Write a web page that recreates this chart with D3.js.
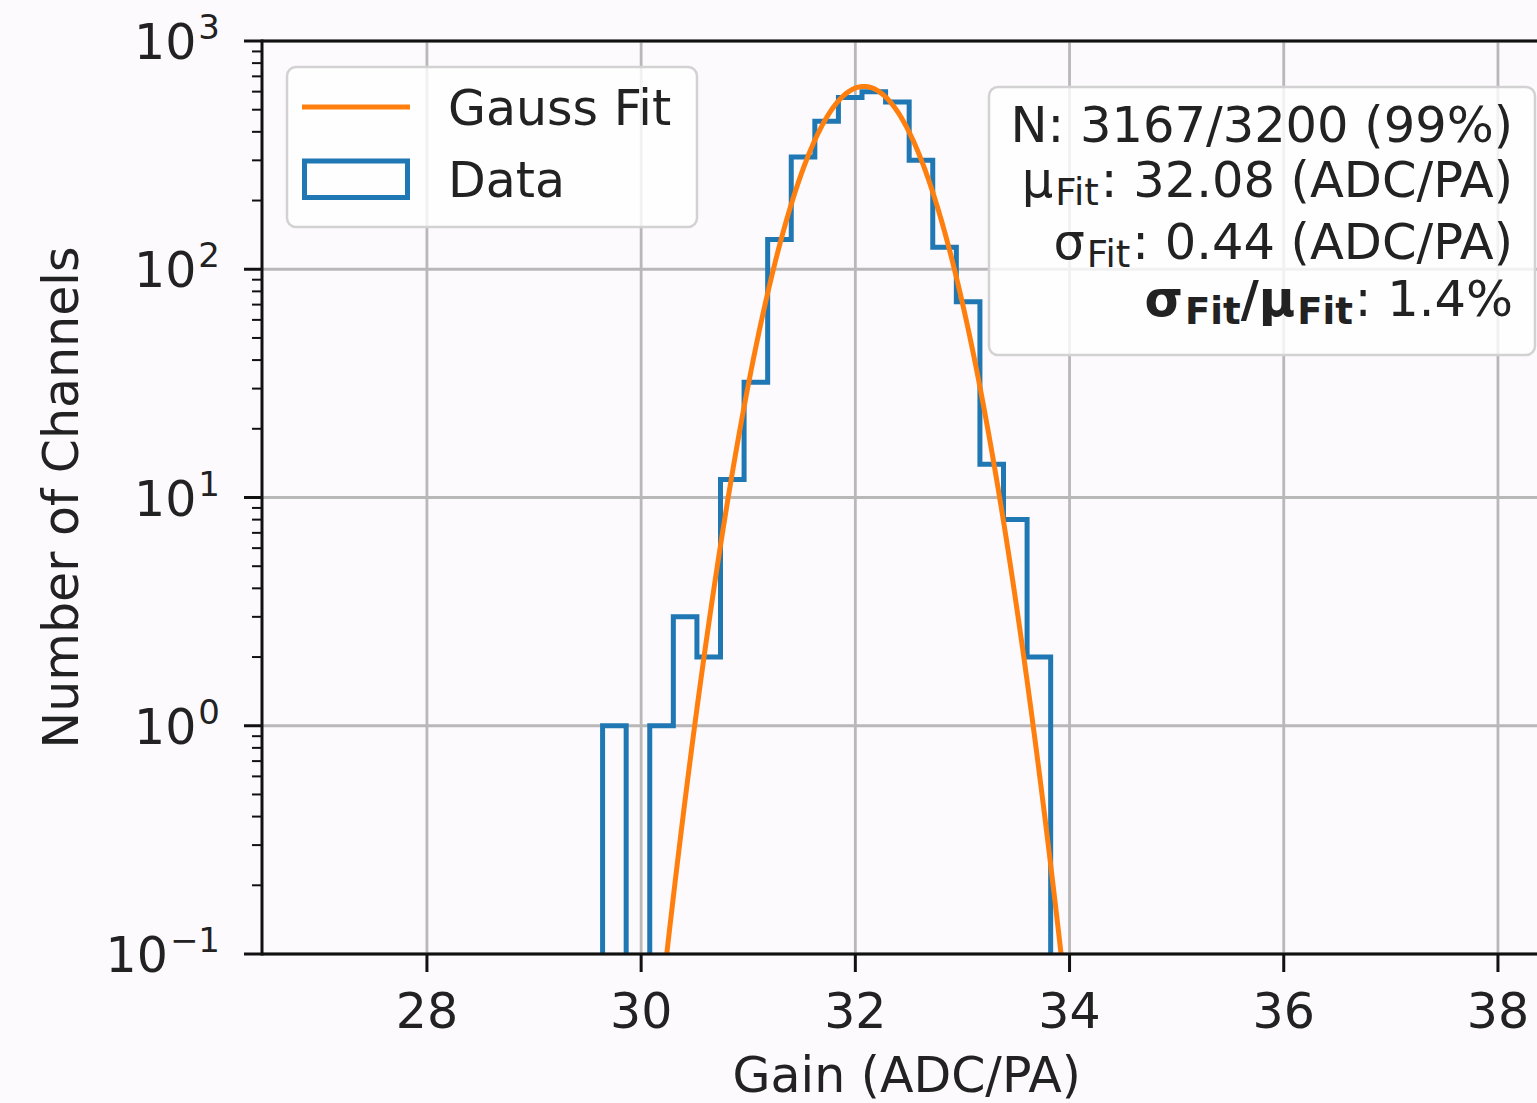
<!DOCTYPE html>
<html>
<head>
<meta charset="utf-8">
<script src="https://cdn.jsdelivr.net/npm/d3@7"></script>
<style>
  html, body { margin: 0; padding: 0; background: #fdfafd; }
  svg { display: block; font-family: "DejaVu Sans", sans-serif; }
</style>
</head>
<body>
<svg id="chart" width="1537" height="1103"></svg>
<script>
// Gain histogram (channels per bin) with Gaussian fit
const binStart = 29.64;          // lower edge of the first bin (ADC/PA)
const binWidth = 0.2202;         // bin width (ADC/PA)
const binCounts = [1, 0, 1, 3, 2, 12, 32, 135, 310, 445, 565, 600, 540, 300, 125, 72, 14, 8, 2];

const fitMu = 32.08;
const fitSigma = 0.44;
const nFitted = 3167;
const nTotal = 3200;

const xTicks = [28, 30, 32, 34, 36, 38];
const yTickExponents = [-1, 0, 1, 2, 3];
const xDomain = [26.46, 38.5];
const yDomain = [0.1, 1000];

const legendLabels = ["Gauss Fit", "Data"];
const xAxisTitle = "Gain (ADC/PA)";
const yAxisTitle = "Number of Channels";

const colBlue = "#1f77b4";
const colOrange = "#ff7f0e";
const colText = "#222";
const colGrid = "#b8b8b8";

const svg = d3.select("#chart");
const plot = { left: 262, top: 41, right: 1551.5, bottom: 954 };

const x = d3.scaleLinear().domain(xDomain).range([plot.left, plot.right]);
const y = d3.scaleLog().domain(yDomain).range([plot.bottom, plot.top]);

svg.append("rect").attr("width", 1537).attr("height", 1103).attr("fill", "#fdfafd");

svg.append("defs").append("clipPath").attr("id", "plotClip")
  .append("rect")
  .attr("x", plot.left).attr("y", plot.top)
  .attr("width", plot.right - plot.left).attr("height", plot.bottom - plot.top);

// grid
const grid = svg.append("g");
grid.selectAll("line.gx").data(xTicks).join("line")
  .attr("x1", d => x(d)).attr("x2", d => x(d))
  .attr("y1", plot.top).attr("y2", plot.bottom)
  .attr("stroke", colGrid).attr("stroke-width", 2.8);
grid.selectAll("line.gy").data(yTickExponents).join("line")
  .attr("x1", plot.left).attr("x2", plot.right)
  .attr("y1", d => y(Math.pow(10, d))).attr("y2", d => y(Math.pow(10, d)))
  .attr("stroke", colGrid).attr("stroke-width", 2.8);

// histogram outline (step)
const edges = d3.range(binCounts.length + 1).map(i => binStart + i * binWidth);
const floorVal = 1e-3;
const stepPts = [[edges[0], floorVal]];
binCounts.forEach((c, i) => {
  const v = c > 0 ? c : floorVal;
  stepPts.push([edges[i], v]);
  stepPts.push([edges[i + 1], v]);
});
stepPts.push([edges[edges.length - 1], floorVal]);

const body = svg.append("g").attr("clip-path", "url(#plotClip)");
body.append("path")
  .attr("d", d3.line().x(d => x(d[0])).y(d => y(d[1]))(stepPts))
  .attr("fill", "none").attr("stroke", colBlue).attr("stroke-width", 5)
  .attr("stroke-linejoin", "miter");

// Gaussian fit curve
const amp = nFitted * binWidth / (fitSigma * Math.sqrt(2 * Math.PI));
const curvePts = d3.range(0, 2001).map(i => {
  const xv = xDomain[0] + (xDomain[1] - xDomain[0]) * i / 2000;
  const yv = amp * Math.exp(-Math.pow(xv - fitMu, 2) / (2 * fitSigma * fitSigma));
  return [xv, Math.max(yv, 1e-4)];
});
body.append("path")
  .attr("d", d3.line().x(d => x(d[0])).y(d => y(d[1]))(curvePts))
  .attr("fill", "none").attr("stroke", colOrange).attr("stroke-width", 5);

// spines
const spines = svg.append("g").attr("stroke", "#111").attr("stroke-width", 3);
spines.append("line").attr("x1", plot.left).attr("x2", plot.left).attr("y1", plot.top - 1.5).attr("y2", plot.bottom + 1.5);
spines.append("line").attr("x1", plot.left).attr("x2", plot.right).attr("y1", plot.bottom).attr("y2", plot.bottom);
spines.append("line").attr("x1", plot.left).attr("x2", plot.right).attr("y1", plot.top).attr("y2", plot.top);

// x axis ticks and labels
const xAxisG = svg.append("g");
xAxisG.selectAll("line").data(xTicks).join("line")
  .attr("x1", d => x(d)).attr("x2", d => x(d))
  .attr("y1", plot.bottom).attr("y2", plot.bottom + 18)
  .attr("stroke", "#111").attr("stroke-width", 3);
xAxisG.selectAll("text").data(xTicks).join("text")
  .attr("x", d => x(d)).attr("y", 1028)
  .attr("text-anchor", "middle").attr("font-size", 49).attr("fill", colText)
  .text(d => d);

// y axis ticks (major + minor) and labels
const yAxisG = svg.append("g");
yAxisG.selectAll("line.maj").data(yTickExponents).join("line")
  .attr("x1", plot.left - 18).attr("x2", plot.left)
  .attr("y1", d => y(Math.pow(10, d))).attr("y2", d => y(Math.pow(10, d)))
  .attr("stroke", "#111").attr("stroke-width", 3);
const minorVals = [];
yTickExponents.slice(0, -1).forEach(e => {
  for (let m = 2; m <= 9; m++) minorVals.push(m * Math.pow(10, e));
});
yAxisG.selectAll("line.min").data(minorVals).join("line")
  .attr("x1", plot.left - 10).attr("x2", plot.left)
  .attr("y1", d => y(d)).attr("y2", d => y(d))
  .attr("stroke", "#111").attr("stroke-width", 2);
const yLab = yAxisG.selectAll("text").data(yTickExponents).join("text")
  .attr("x", 220).attr("y", d => y(Math.pow(10, d)) + 18)
  .attr("text-anchor", "end").attr("font-size", 49).attr("fill", colText);
yLab.append("tspan").text("10");
yLab.append("tspan").attr("dy", -20).attr("dx", 2).attr("font-size", 34)
  .text(d => d < 0 ? "\u2212" + Math.abs(d) : String(d));

// axis titles
svg.append("text")
  .attr("x", (plot.left + plot.right) / 2).attr("y", 1092)
  .attr("text-anchor", "middle").attr("font-size", 49).attr("fill", colText)
  .text(xAxisTitle);
svg.append("text")
  .attr("transform", `translate(78,${(plot.top + plot.bottom) / 2}) rotate(-90)`)
  .attr("text-anchor", "middle").attr("font-size", 49).attr("fill", colText)
  .text(yAxisTitle);

// legend
const leg = svg.append("g");
leg.append("rect")
  .attr("x", 287).attr("y", 67).attr("width", 410).attr("height", 160).attr("rx", 9)
  .attr("fill", "#ffffff").attr("fill-opacity", 0.8)
  .attr("stroke", "#d2d2d2").attr("stroke-width", 2.5);
leg.append("line").attr("x1", 302).attr("x2", 410).attr("y1", 107).attr("y2", 107)
  .attr("stroke", colOrange).attr("stroke-width", 5);
leg.append("rect").attr("x", 304.5).attr("y", 161).attr("width", 103).attr("height", 36.5)
  .attr("fill", "none").attr("stroke", colBlue).attr("stroke-width", 5);
leg.selectAll("text").data(legendLabels).join("text")
  .attr("x", 448).attr("y", (d, i) => 125 + i * 72)
  .attr("font-size", 49).attr("fill", colText)
  .text(d => d);

// fit statistics box
const stats = svg.append("g");
stats.append("rect")
  .attr("x", 989).attr("y", 87).attr("width", 546).attr("height", 268).attr("rx", 9)
  .attr("fill", "#ffffff").attr("fill-opacity", 0.8)
  .attr("stroke", "#d2d2d2").attr("stroke-width", 2.5);

const statX = 1513;
const pct = Math.round(100 * nFitted / nTotal);
const relWidth = (100 * fitSigma / fitMu).toFixed(1);
const subSize = 37;

stats.append("text").attr("x", statX).attr("y", 142)
  .attr("text-anchor", "end").attr("font-size", 49.5).attr("fill", colText)
  .text(`N: ${nFitted}/${nTotal} (${pct}%)`);

function subLine(yPos, sym, rest) {
  const t = stats.append("text").attr("x", statX).attr("y", yPos)
    .attr("text-anchor", "end").attr("font-size", 49.5).attr("fill", colText);
  t.append("tspan").text(sym);
  t.append("tspan").attr("dy", 8).attr("dx", 2).attr("font-size", subSize).text("Fit");
  t.append("tspan").attr("dy", -8).attr("dx", 2).text(rest);
}
subLine(197, "\u03bc", `: ${fitMu.toFixed(2)} (ADC/PA)`);
subLine(259, "\u03c3", `: ${fitSigma.toFixed(2)} (ADC/PA)`);

const l4 = stats.append("text").attr("x", statX).attr("y", 316)
  .attr("text-anchor", "end").attr("font-size", 49.5).attr("fill", colText);
l4.append("tspan").attr("font-weight", "bold").text("\u03c3");
l4.append("tspan").attr("font-weight", "bold").attr("dy", 8).attr("dx", 2).attr("font-size", subSize).text("Fit");
l4.append("tspan").attr("font-weight", "bold").attr("dy", -8).text("/\u03bc");
l4.append("tspan").attr("font-weight", "bold").attr("dy", 8).attr("dx", 2).attr("font-size", subSize).text("Fit");
l4.append("tspan").attr("dy", -8).attr("dx", 2).text(`: ${relWidth}%`);
</script>
</body>
</html>
